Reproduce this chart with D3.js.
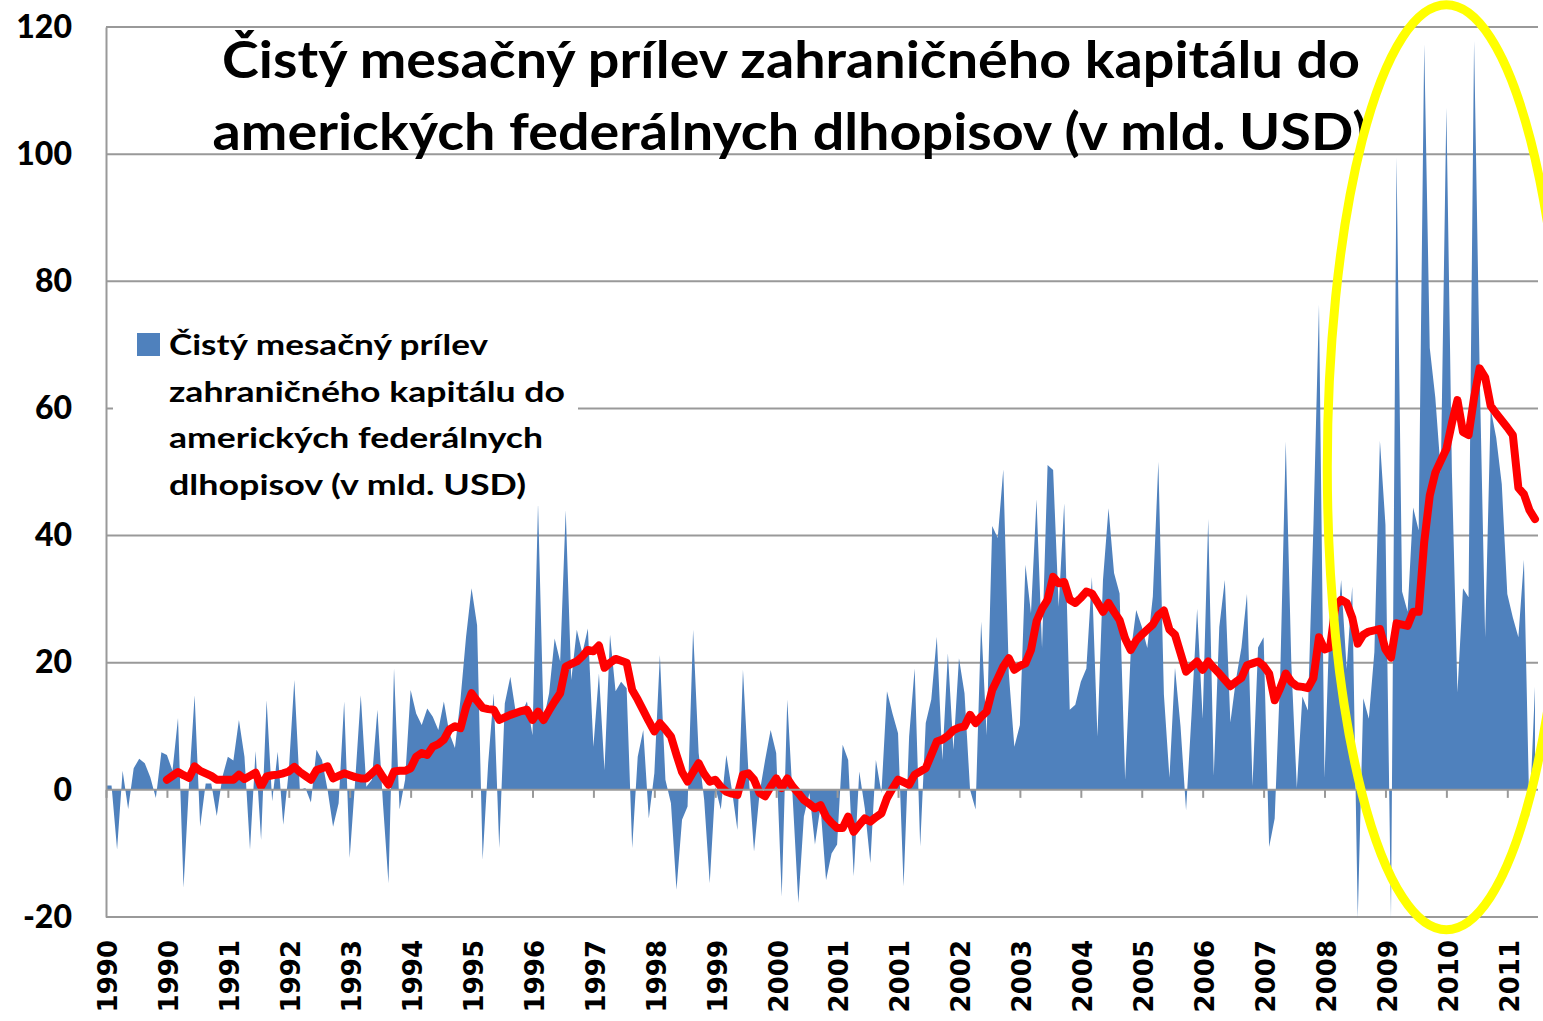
<!DOCTYPE html>
<html>
<head>
<meta charset="utf-8">
<script src="https://cdn.jsdelivr.net/npm/d3@7"></script>
<style>
  body { margin: 0; background: #fff; }
  svg { display: block; }
</style>
</head>
<body>
<svg id="chart" width="1543" height="1021"></svg>
<script>
// monthly net inflow, Jan 1990 .. Jul 2011 (bn USD)
const flows = [
  0.7, 0.7, -9.4, 3.0, -3.0, 3.4, 4.9, 4.2, 2, -1.3,
  5.9, 5.5, 3, 11.3, -15.4, 1, 14.9, -5.8, 1, 1,
  -4.1, 2, 5.2, 4.6, 11, 5.2, -9.4, 6.1, -7.9, 14.1,
  -1.8, 6, -5.5, 3, 17.3, 0, 0.3, -2, 6.3, 4.7,
  0, -5.8, -2.1, 13.9, -10.7, 1.6, 14.9, 0.5, 1.6, 12.6,
  -2.1, -14.7, 19.1, -3.1, 1.6, 15.7, 12.0, 10.2, 12.8, 11.5,
  9.4, 13.9, 8.9, 6.6, 14.2, 24, 31.7, 25.9, -11, 4.2,
  15.2, -9.2, 13.6, 17.8, 12.1, 12, 13.9, 8.6, 45.1, 11,
  15.2, 23.8, 20.2, 44, 17.3, 25.2, 21.5, 25.4, 6.8, 18.3,
  3.1, 24.4, 15.5, 17, 16, -9.2, 5.2, 9.4, -4.5, 2.6,
  21.2, 1.6, -2.1, -15.7, -4.7, -2.6, 25.2, 5.8, -1.6, -14.7,
  0.5, -3.1, 5.5, 0, -6.3, 18.9, 2.6, -9.7, -0.5, 4.7,
  9.4, 5.8, -16.8, 14.2, -1.6, -17.8, -4.2, -0.5, -8.6, -2.6,
  -14.2, -10, -8.6, 7.1, 4.7, -13.6, 2.9, -2.9, -11.5, 4.7,
  -0.5, 15.5, 12, 8.9, -15.2, 8.4, 19.1, -8.9, 10.5, 14.2,
  24.1, 4.7, 21.5, 6.3, 20.7, 15.2, 0, -3.1, 26.5, 8.6,
  41.5, 39.6, 50.4, 18.3, 6.8, 10.2, 35.4, 27.8, 45.7, 22.3,
  51.1, 50.3, 28.8, 45.1, 12.6, 13.4, 17, 19.1, 33.5, 8.4,
  33, 44.3, 34.1, 30.9, 1.6, 21.5, 28.3, 25.7, 22.3, 30.4,
  51.6, 15, 1.9, 19.2, 10, -3.2, 12, 28.5, 11.2, 42.6,
  2.2, 25.6, 33, 10.6, 17.3, 22.4, 30.8, 0.6, 22.4, 24,
  -9, -4.5, 18, 54.8, 20, 0.3, 14.7, 12.5, 41.7, 76.3,
  1.9, 28.8, 22, 33, 19, 32, -20.2, 14.4, 11.2, 21.7,
  54.9, 41.7, -20.2, 99.5, 31.2, 28, 44.4, 40.8, 117.3, 69.5,
  61.7, 49.9, 107.3, 49.9, 15.3, 31.7, 30.3, 117.8, 66.3, 24,
  59.9, 55.4, 48.1, 30.8, 27.1, 24, 36.2, -4.3, 16.2
];

// red moving-average line, starts at month 11
const avgStart = 11;
const avg = [
  1.6, 2.2, 2.8, 2.3, 1.9, 3.7, 3.0, 2.6, 2.2,
  1.6, 1.6, 1.6, 1.6, 2.4, 1.7, 2.2, 2.7, 0.5, 2.1,
  2.3, 2.4, 2.6, 2.9, 3.6, 2.8, 2.2, 1.6, 3.1, 3.4,
  3.7, 1.8, 2.2, 2.6, 2.3, 2.0, 1.8, 1.8, 2.6, 3.4,
  2.0, 0.8, 2.9, 3.0, 3.0, 3.4, 5.2, 5.8, 5.5, 6.8,
  7.2, 7.9, 9.5, 10, 9.7, 13, 15.2, 14, 12.9, 12.7,
  12.6, 11.0, 11.4, 11.8, 12.1, 12.4, 12.6, 11, 12.3, 11,
  12.5, 13.9, 15.2, 19.4, 19.8, 20.2, 21, 22, 21.8, 22.7,
  19.2, 20, 20.6, 20.3, 20.0, 15.7, 14.2, 12.5, 10.8, 9.2,
  10.5, 9.5, 8.4, 5.5, 2.8, 1.3, 2.8, 4.2, 2.5, 1.3,
  1.6, 0.5, -0.3, -0.6, -0.8, 2.4, 2.6, 1.6, -0.5, -1.0,
  0.5, 1.8, 0.3, 1.8, 0.5, -0.5, -1.6, -2.2, -2.9, -2.4,
  -4.2, -5.2, -6.0, -6.0, -4.2, -6.6, -5.5, -4.5, -5.0, -4.3,
  -3.7, -1.3, 0.2, 1.6, 1.2, 0.8, 2.4, 2.9, 3.4, 5.5,
  7.6, 7.9, 8.5, 9.4, 9.8, 10, 11.8, 10.5, 11.5, 12.3,
  15.7, 17.5, 19.4, 20.7, 18.9, 19.5, 19.9, 22, 26.5, 28.5,
  29.9, 33.5, 32.5, 32.7, 29.9, 29.4, 30.2, 31.2, 30.9, 29.5,
  28, 29.4, 28, 26.7, 23.8, 22, 23.5, 24.4, 25.2, 26,
  27.5, 28.2, 25.2, 24.4, 21.5, 18.6, 19.4, 20.2, 18.9, 20.2,
  19.2, 18.3, 17.3, 16.3, 17, 17.6, 19.6, 19.9, 20.2, 19.5,
  18.3, 14.1, 16, 18.3, 17, 16.3, 16.2, 16, 17.6, 24,
  22.1, 22.4, 29, 29.9, 29.4, 27.1, 23, 24.4, 24.9, 25.1,
  25.3, 22.1, 20.8, 26.2, 26, 25.8, 28, 28, 39, 46.3,
  49.9, 51.8, 53.6, 57.7, 61.3, 56.3, 55.8, 61.7, 66.3, 64.9,
  60.4, 59.2, 58.1, 57, 55.8, 47.5, 46.5, 44, 42.6
];

// category labels, one every 11 months
const labelStep = 11;
const tickLabels = [
  "1990", "1990", "1991", "1992", "1993", "1994", "1995", "1996",
  "1997", "1998", "1999", "2000", "2001", "2001", "2002", "2003",
  "2004", "2005", "2006", "2007", "2008", "2009", "2010", "2011"
];
const yTicks = [-20, 0, 20, 40, 60, 80, 100, 120];

const titleLines = [
  "Čistý mesačný prílev zahraničného kapitálu do",
  "amerických federálnych dlhopisov (v mld. USD)"
];
const legendLines = [
  "Čistý mesačný prílev",
  "zahraničného kapitálu do",
  "amerických federálnych",
  "dlhopisov (v mld. USD)"
];

// settings
const width = 1543;
const height = 1021;
const margin = { top: 27, right: 5, bottom: 104, left: 106 };
const plotRight = width - margin.right;
const plotBottom = height - margin.bottom;

const blue = "#4f81bd";
const grid = "#999999";

const svg = d3.select("#chart");

// scales
const x = d3
  .scaleLinear()
  .domain([0, flows.length - 1])
  .range([margin.left, plotRight - 3]);
const y = d3
  .scaleLinear()
  .domain([-20, 120])
  .range([plotBottom, margin.top]);

// gridlines
svg
  .append("g")
  .attr("class", "grid")
  .selectAll("line")
  .data(yTicks.filter((d) => d !== 0))
  .join("line")
  .attr("x1", margin.left)
  .attr("x2", plotRight)
  .attr("y1", (d) => y(d))
  .attr("y2", (d) => y(d))
  .attr("stroke", grid)
  .attr("stroke-width", 2);

// area
const areaGen = d3
  .area()
  .x((d, i) => x(i))
  .y0(y(0))
  .y1((d) => y(d));

svg
  .append("path")
  .datum(flows)
  .attr("fill", blue)
  .attr("d", areaGen);

// moving average
const lineGen = d3
  .line()
  .x((d, i) => x(i + avgStart))
  .y((d) => y(d));

svg
  .append("path")
  .datum(avg)
  .attr("fill", "none")
  .attr("stroke", "#ff0000")
  .attr("stroke-width", 8)
  .attr("stroke-linejoin", "round")
  .attr("stroke-linecap", "round")
  .attr("d", lineGen);

// y axis
const yAxisG = svg
  .append("g")
  .attr("transform", `translate(${margin.left}, 0)`)
  .call(
    d3
      .axisLeft(y)
      .tickValues(yTicks)
      .tickSize(0)
      .tickPadding(34)
      .tickFormat((d) => String(d))
  );
yAxisG.select(".domain").attr("stroke", grid).attr("stroke-width", 2);
yAxisG
  .selectAll("text")
  .attr("font-family", "Lato, 'Open Sans', sans-serif")
  .attr("font-weight", 900)
  .attr("font-size", 32)
  .attr("fill", "#000");

// x axis (zero line + tick marks)
const catTicks = d3.range(0, flows.length, labelStep);
const xAxisG = svg
  .append("g")
  .attr("transform", `translate(0, ${y(0)})`)
  .call(
    d3.axisBottom(x).tickValues(catTicks).tickSize(8).tickFormat("")
  );
xAxisG
  .select(".domain")
  .attr("stroke", grid)
  .attr("stroke-width", 2)
  .attr("d", `M${margin.left},0H${plotRight}`);
xAxisG.selectAll(".tick line").attr("stroke", grid).attr("stroke-width", 2);

// category labels below the plot
svg
  .append("g")
  .selectAll("text")
  .data(catTicks)
  .join("text")
  .attr("transform", (d) => `translate(${x(d) + 2}, ${plotBottom + 23}) rotate(-90)`)
  .attr("dy", "0.36em")
  .attr("text-anchor", "end")
  .attr("font-family", "'DejaVu Sans', sans-serif")
  .attr("font-weight", "bold")
  .attr("font-size", 26)
  .text((d, i) => tickLabels[i]);

// legend
const legend = svg.append("g").attr("class", "legend");
legend
  .append("rect")
  .attr("x", 113)
  .attr("y", 318)
  .attr("width", 465)
  .attr("height", 188)
  .attr("fill", "#fff");
legend
  .append("rect")
  .attr("x", 137)
  .attr("y", 333)
  .attr("width", 23)
  .attr("height", 23)
  .attr("fill", blue);
const legendWidths = [319, 396, 374, 357];
legend
  .selectAll("text")
  .data(legendLines)
  .join("text")
  .attr("x", 169)
  .attr("y", (d, i) => 355 + i * 46.7)
  .attr("textLength", (d, i) => legendWidths[i])
  .attr("lengthAdjust", "spacingAndGlyphs")
  .attr("font-family", "Lato, 'Open Sans', sans-serif")
  .attr("font-weight", "bold")
  .attr("font-size", 29)
  .text((d) => d);

// title
const titleWidths = [1138, 1155];
svg
  .append("g")
  .selectAll("text")
  .data(titleLines)
  .join("text")
  .attr("x", (d, i) => (i === 0 ? 791 : 790))
  .attr("y", (d, i) => 78 + i * 72)
  .attr("text-anchor", "middle")
  .attr("textLength", (d, i) => titleWidths[i])
  .attr("lengthAdjust", "spacingAndGlyphs")
  .attr("font-family", "Lato, 'Open Sans', sans-serif")
  .attr("font-weight", "bold")
  .attr("font-size", 51)
  .text((d) => d);

// highlight ellipse around 2009-2011
const ellTop = y(123.5);
const ellBottom = y(-22);
svg
  .append("ellipse")
  .attr("cx", x(242))
  .attr("cy", (ellTop + ellBottom) / 2)
  .attr("rx", x(242) - x(220.5))
  .attr("ry", (ellBottom - ellTop) / 2)
  .attr("fill", "none")
  .attr("stroke", "#ffff00")
  .attr("stroke-width", 9);
</script>
</body>
</html>
